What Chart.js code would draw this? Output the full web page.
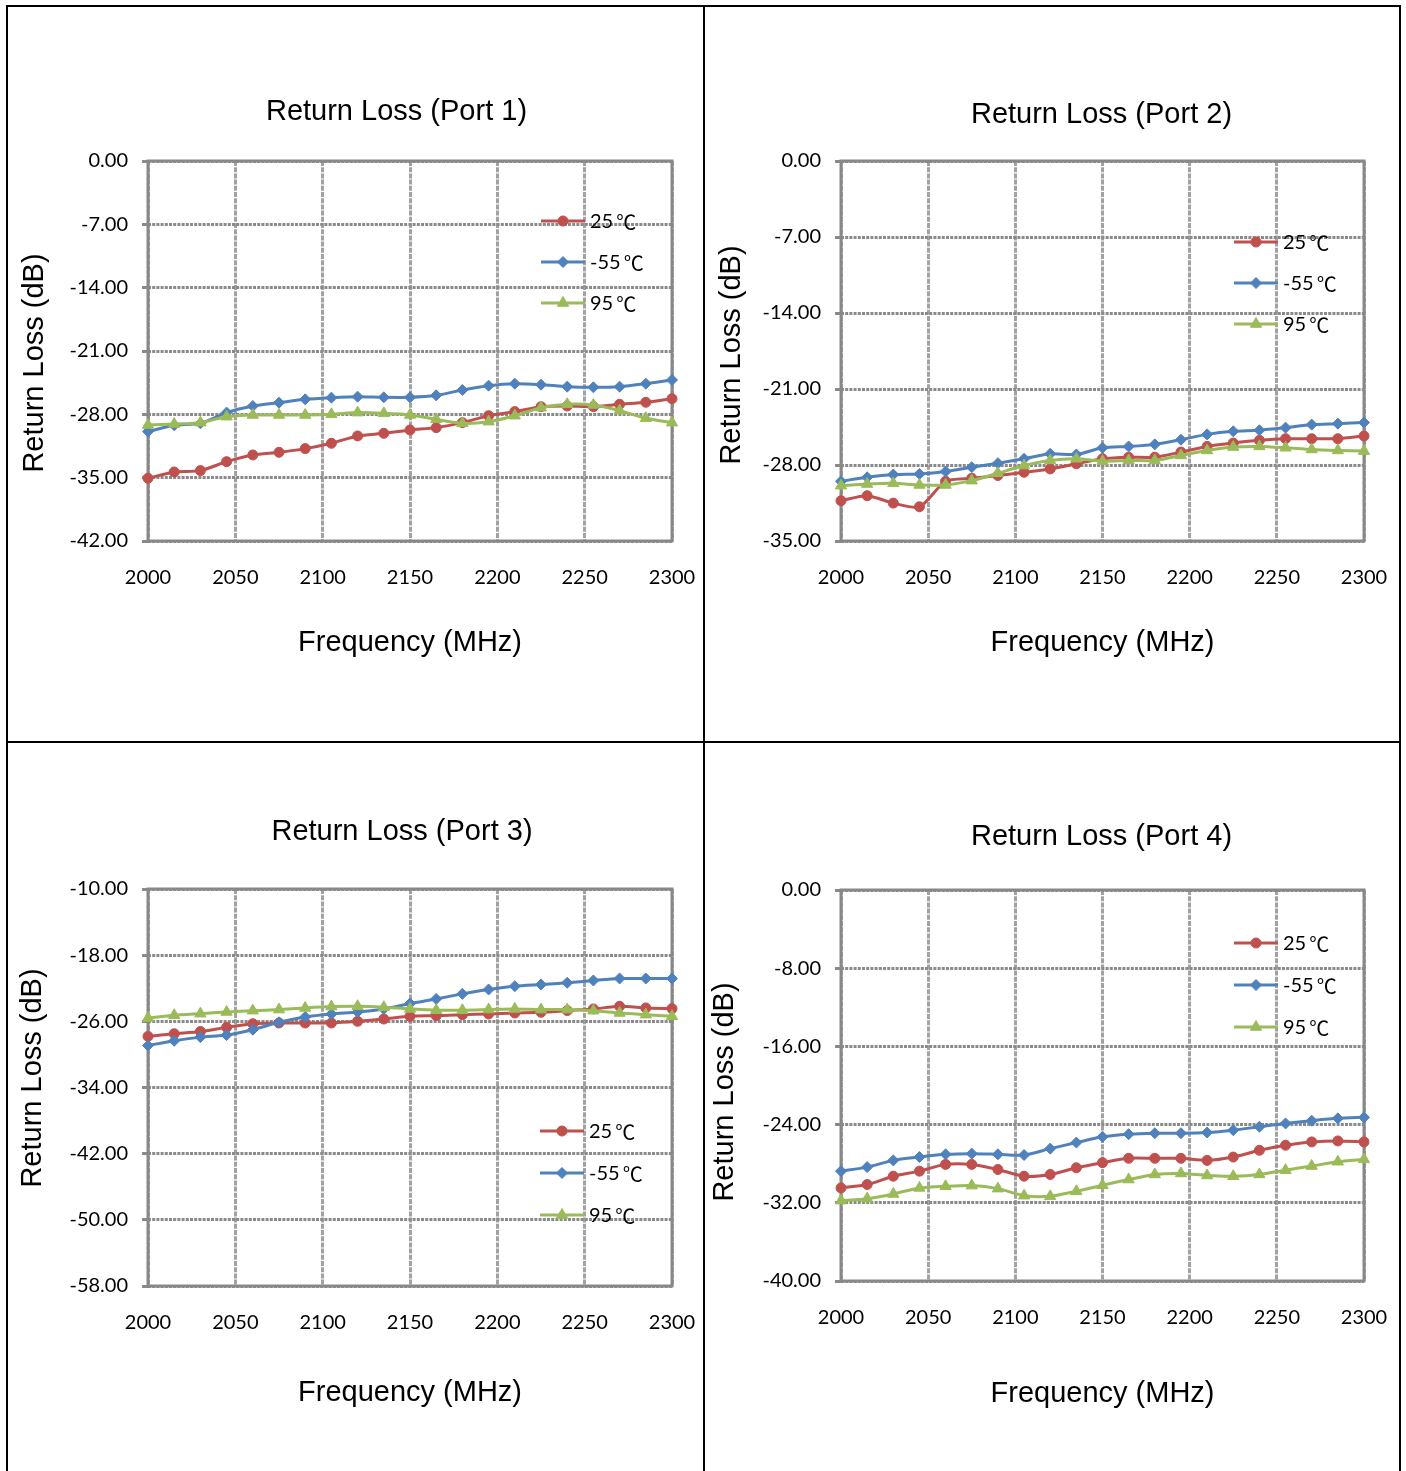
<!DOCTYPE html>
<html><head><meta charset="utf-8">
<script src="https://cdn.jsdelivr.net/npm/chart.js@4.4.1/dist/chart.umd.min.js"></script>
<style>
html,body{margin:0;padding:0;background:#fff;}
body{width:1406px;height:1471px;position:relative;overflow:hidden;}
.ln{position:absolute;background:#000;}
canvas{position:absolute;}
</style></head><body>
<div class="ln" style="left:6px;top:5px;width:1395px;height:2px"></div>
<div class="ln" style="left:6px;top:5px;width:2px;height:1470px"></div>
<div class="ln" style="left:1399px;top:5px;width:2px;height:1470px"></div>
<div class="ln" style="left:703px;top:5px;width:2px;height:1470px"></div>
<div class="ln" style="left:6px;top:741px;width:1395px;height:2px"></div>
<canvas id="c1"></canvas>
<canvas id="c2"></canvas>
<canvas id="c3"></canvas>
<canvas id="c4"></canvas>
<script>
// ---------------- data ----------------
const freqMHz = [2000,2015,2030,2045,2060,2075,2090,2105,2120,2135,2150,2165,2180,2195,2210,2225,2240,2255,2270,2285,2300];
const xTickValues = [2000,2050,2100,2150,2200,2250,2300];
const seriesNames = ['25℃','-55℃','95℃'];

const port1Ticks = [0,-7,-14,-21,-28,-35,-42];
const port1_25  = [-35.07,-34.37,-34.22,-33.23,-32.49,-32.20,-31.79,-31.20,-30.39,-30.10,-29.73,-29.47,-28.92,-28.15,-27.70,-27.15,-27.08,-27.15,-26.89,-26.67,-26.27];
const port1_m55 = [-29.91,-29.21,-28.99,-27.81,-27.08,-26.71,-26.34,-26.16,-26.05,-26.12,-26.12,-25.90,-25.31,-24.83,-24.61,-24.72,-24.94,-25.01,-24.94,-24.61,-24.20];
const port1_95  = [-29.18,-29.07,-28.92,-28.26,-28.07,-28.07,-28.07,-28.00,-27.81,-27.89,-28.07,-28.55,-28.99,-28.81,-28.15,-27.26,-26.89,-26.97,-27.59,-28.44,-28.92];

const port2Ticks = [0,-7,-14,-21,-28,-35];
const port2_25  = [-31.29,-30.83,-31.51,-31.85,-29.50,-29.22,-28.97,-28.67,-28.36,-27.89,-27.43,-27.28,-27.28,-26.81,-26.29,-25.98,-25.73,-25.58,-25.58,-25.58,-25.33];
const port2_m55 = [-29.50,-29.13,-28.88,-28.82,-28.60,-28.20,-27.83,-27.43,-26.97,-27.03,-26.41,-26.29,-26.10,-25.67,-25.18,-24.90,-24.80,-24.56,-24.28,-24.19,-24.09];
const port2_95  = [-29.90,-29.75,-29.69,-29.84,-29.84,-29.44,-28.76,-28.05,-27.58,-27.43,-27.65,-27.58,-27.58,-27.12,-26.66,-26.35,-26.29,-26.41,-26.57,-26.66,-26.72];

const port3Ticks = [-10,-18,-26,-34,-42,-50,-58];
const port3_25  = [-27.82,-27.50,-27.22,-26.73,-26.29,-26.20,-26.20,-26.20,-26.00,-25.72,-25.39,-25.31,-25.19,-25.11,-24.99,-24.91,-24.70,-24.50,-24.18,-24.38,-24.46];
const port3_m55 = [-28.92,-28.35,-27.91,-27.66,-27.01,-26.12,-25.47,-25.11,-24.87,-24.50,-23.85,-23.29,-22.68,-22.15,-21.75,-21.55,-21.34,-21.06,-20.82,-20.82,-20.82];
const port3_95  = [-25.60,-25.27,-25.07,-24.87,-24.71,-24.58,-24.38,-24.22,-24.18,-24.30,-24.50,-24.66,-24.66,-24.58,-24.50,-24.58,-24.58,-24.71,-24.99,-25.19,-25.39];

const port4Ticks = [0,-8,-16,-24,-32,-40];
const port4_25  = [-30.48,-30.13,-29.28,-28.76,-28.07,-28.07,-28.59,-29.28,-29.10,-28.42,-27.90,-27.45,-27.45,-27.45,-27.66,-27.32,-26.63,-26.11,-25.77,-25.67,-25.77];
const port4_m55 = [-28.76,-28.35,-27.66,-27.32,-27.04,-26.97,-27.04,-27.11,-26.46,-25.84,-25.25,-24.98,-24.88,-24.88,-24.81,-24.57,-24.22,-23.88,-23.60,-23.36,-23.26];
const port4_95  = [-31.78,-31.58,-31.10,-30.48,-30.31,-30.24,-30.55,-31.27,-31.34,-30.82,-30.20,-29.62,-29.10,-29.00,-29.21,-29.28,-29.10,-28.66,-28.24,-27.80,-27.56];

// ---------------- styles / layout ----------------
const COLORS = ['#C0504D','#4F81BD','#9BBB59'];
const MARKERS = [{style:'circle',r:5},{style:'rectRot',r:5.5},{style:'triangle',r:6.5}];
const TITLE_FONT = 'Liberation Sans, Arial, sans-serif';
const TICK_FONT = 'Lato, "Noto Sans CJK SC", sans-serif';
const CJK_FONT = '"Noto Sans CJK SC", sans-serif';
const TF = 29, TLH = TF*1.2;
const TICK_SIZE = 20;

function drawMarker(ctx, style, x, y, r, color){
  ctx.save();
  ctx.fillStyle = color; ctx.strokeStyle = color; ctx.lineWidth = 1;
  ctx.beginPath();
  if (style === 'circle') { ctx.arc(x, y, r, 0, Math.PI*2); }
  else if (style === 'rectRot') { ctx.moveTo(x, y-r); ctx.lineTo(x+r, y); ctx.lineTo(x, y+r); ctx.lineTo(x-r, y); ctx.closePath(); }
  else { const h = r*0.866; ctx.moveTo(x, y-r); ctx.lineTo(x+h, y+r/2); ctx.lineTo(x-h, y+r/2); ctx.closePath(); }
  ctx.fill(); ctx.stroke();
  ctx.restore();
}

const refLegend = {
  id: 'refLegend',
  afterDatasetsDraw(chart, args, opts) {
    const {ctx, chartArea: a} = chart;
    const x0 = a.right - opts.fromRight, y0 = a.top + opts.fromTop;
    ctx.save();
    chart.data.datasets.forEach((ds, i) => {
      const y = y0 + i*opts.gap;
      ctx.strokeStyle = ds.borderColor; ctx.lineWidth = 3;
      ctx.beginPath(); ctx.moveTo(x0, y); ctx.lineTo(x0 + opts.len, y); ctx.stroke();
      drawMarker(ctx, ds.pointStyle, x0 + opts.len/2, y, ds.pointRadius, ds.borderColor);
      ctx.fillStyle = '#000';
      ctx.textBaseline = 'middle'; ctx.textAlign = 'left';
      const label = ds.label;
      const main = label.endsWith('℃') ? label.slice(0, -1) : label;
      ctx.font = TICK_SIZE + 'px ' + TICK_FONT;
      const tx = x0 + opts.len + 5;
      ctx.fillText(main, tx, y + 1);
      if (main !== label) {
        const w = ctx.measureText(main).width;
        ctx.font = TICK_SIZE + 'px ' + CJK_FONT;
        ctx.fillText('℃', tx + w + 3, y + 1);
      }
    });
    ctx.restore();
  }
};

const plotFrame = {
  id: 'plotFrame',
  beforeDatasetsDraw(chart) {
    const {ctx, chartArea: a} = chart;
    ctx.save();
    ctx.strokeStyle = '#888888'; ctx.lineWidth = 3;
    ctx.strokeRect(a.left, a.top, a.right - a.left, a.bottom - a.top);
    ctx.restore();
  }
};

// move the chart title / y-axis title centres to where the reference has them
const titleNudge = {
  id: 'titleNudge',
  afterLayout(chart, args, opts) {
    const tb = chart.titleBlock;
    if (tb && opts.titleX != null) {
      const dx = opts.titleX - (tb.left + tb.right) / 2;
      tb.left += dx; tb.right += dx;
    }
    const ys = chart.scales.y;
    if (ys && opts.yTitleY != null) {
      const dy = opts.yTitleY - (ys.top + ys.bottom) / 2;
      ys.top += dy; ys.bottom += dy;
    }
  }
};

function makeChart(id, lay, title, yTicks, values, leg) {
  const cv = document.getElementById(id);
  cv.width = lay.W; cv.height = lay.H;
  cv.style.left = lay.L + 'px'; cv.style.top = lay.T + 'px';
  cv.style.width = lay.W + 'px'; cv.style.height = lay.H + 'px';
  const a = lay.area;
  const padR = lay.L + lay.W - a.r;
  const yW = a.l - lay.L;
  const padT = lay.titleY - lay.T - TLH/2;
  const titlePadB = a.t - lay.T - padT - TLH;
  const xH = lay.T + lay.H - a.b;
  const yTitlePadTop = (lay.yTitleX - lay.L) - TLH/2;
  const xTitlePadBottom = (lay.T + lay.H) - lay.xTitleY - TLH/2;

  const datasets = values.map((vals, i) => ({
    label: seriesNames[i],
    data: freqMHz.map((f, k) => ({x: f, y: vals[k]})),
    borderColor: COLORS[i], backgroundColor: COLORS[i],
    pointBackgroundColor: COLORS[i], pointBorderColor: COLORS[i],
    pointStyle: MARKERS[i].style, pointRadius: MARKERS[i].r, pointBorderWidth: 1,
    borderWidth: 3, tension: 0.25, clip: false, order: 3 - i
  }));

  return new Chart(cv, {
    type: 'line',
    data: {datasets},
    plugins: [refLegend, plotFrame, titleNudge],
    options: {
      responsive: false, animation: false, events: [],
      layout: {autoPadding: false, padding: {left: 0, right: padR, top: padT, bottom: 0}},
      plugins: {
        legend: {display: false}, tooltip: {enabled: false},
        title: {display: true, text: title, color: '#000',
          font: {family: TITLE_FONT, size: TF, weight: 'normal', lineHeight: 1.2},
          padding: {top: 0, bottom: titlePadB}},
        refLegend: leg,
        titleNudge: {titleX: lay.titleX - lay.L, yTitleY: lay.yTitleY - lay.T}
      },
      scales: {
        x: {
          type: 'linear', min: xTickValues[0], max: xTickValues[xTickValues.length-1],
          afterBuildTicks: s => { s.ticks = xTickValues.map(v => ({value: v})); },
          ticks: {callback: v => String(v), padding: 25, maxRotation: 0, autoSkip: false,
            color: '#000', font: {family: TICK_FONT, size: TICK_SIZE}},
          grid: {color: '#a2a2a2', lineWidth: 3, drawTicks: false},
          border: {display: false, dash: [5, 1.2]},
          title: {display: true, text: 'Frequency (MHz)', color: '#000',
            font: {family: TITLE_FONT, size: TF, weight: 'normal', lineHeight: 1.2},
            padding: {top: 0, bottom: xTitlePadBottom}},
          afterFit: s => { s.height = xH; s.paddingLeft = 0; s.paddingRight = 0; s.paddingTop = 0; s.paddingBottom = 0; }
        },
        y: {
          type: 'linear', min: Math.min(...yTicks), max: Math.max(...yTicks),
          afterBuildTicks: s => { s.ticks = yTicks.map(v => ({value: v})); },
          ticks: {callback: v => Number(v).toFixed(2), padding: 14, autoSkip: false,
            color: '#000', font: {family: TICK_FONT, size: TICK_SIZE}},
          grid: {color: '#8a8a8a', lineWidth: 3, drawTicks: true, tickLength: 6},
          border: {display: false, dash: [3, 1.2]},
          title: {display: true, text: 'Return Loss (dB)', color: '#000',
            font: {family: TITLE_FONT, size: TF, weight: 'normal', lineHeight: 1.2},
            padding: {top: yTitlePadTop, bottom: 0}},
          afterFit: s => { s.width = yW; s.paddingLeft = 0; s.paddingRight = 0; s.paddingTop = 0; s.paddingBottom = 0; }
        }
      }
    }
  });
}

makeChart('c1',
  {L: 8, T: 7, W: 695, H: 734, area: {l: 148, t: 161, r: 672, b: 541}, titleX: 396.5, titleY: 112, yTitleX: 35, yTitleY: 363, xTitleY: 643},
  'Return Loss (Port 1)', port1Ticks, [port1_25, port1_m55, port1_95],
  {fromRight: 131, fromTop: 60, gap: 41, len: 44});
makeChart('c2',
  {L: 705, T: 7, W: 694, H: 734, area: {l: 841, t: 161, r: 1364, b: 541}, titleX: 1101.5, titleY: 115, yTitleX: 732, yTitleY: 355, xTitleY: 643},
  'Return Loss (Port 2)', port2Ticks, [port2_25, port2_m55, port2_95],
  {fromRight: 130, fromTop: 81, gap: 41, len: 44});
makeChart('c3',
  {L: 8, T: 743, W: 695, H: 728, area: {l: 148, t: 889, r: 672, b: 1286}, titleX: 402, titleY: 832, yTitleX: 33, yTitleY: 1078, xTitleY: 1393},
  'Return Loss (Port 3)', port3Ticks, [port3_25, port3_m55, port3_95],
  {fromRight: 132, fromTop: 242, gap: 42, len: 44});
makeChart('c4',
  {L: 705, T: 743, W: 694, H: 728, area: {l: 841, t: 890, r: 1364, b: 1281}, titleX: 1101.5, titleY: 837, yTitleX: 725, yTitleY: 1092, xTitleY: 1394},
  'Return Loss (Port 4)', port4Ticks, [port4_25, port4_m55, port4_95],
  {fromRight: 130, fromTop: 53, gap: 42, len: 44});
</script>
</body></html>
